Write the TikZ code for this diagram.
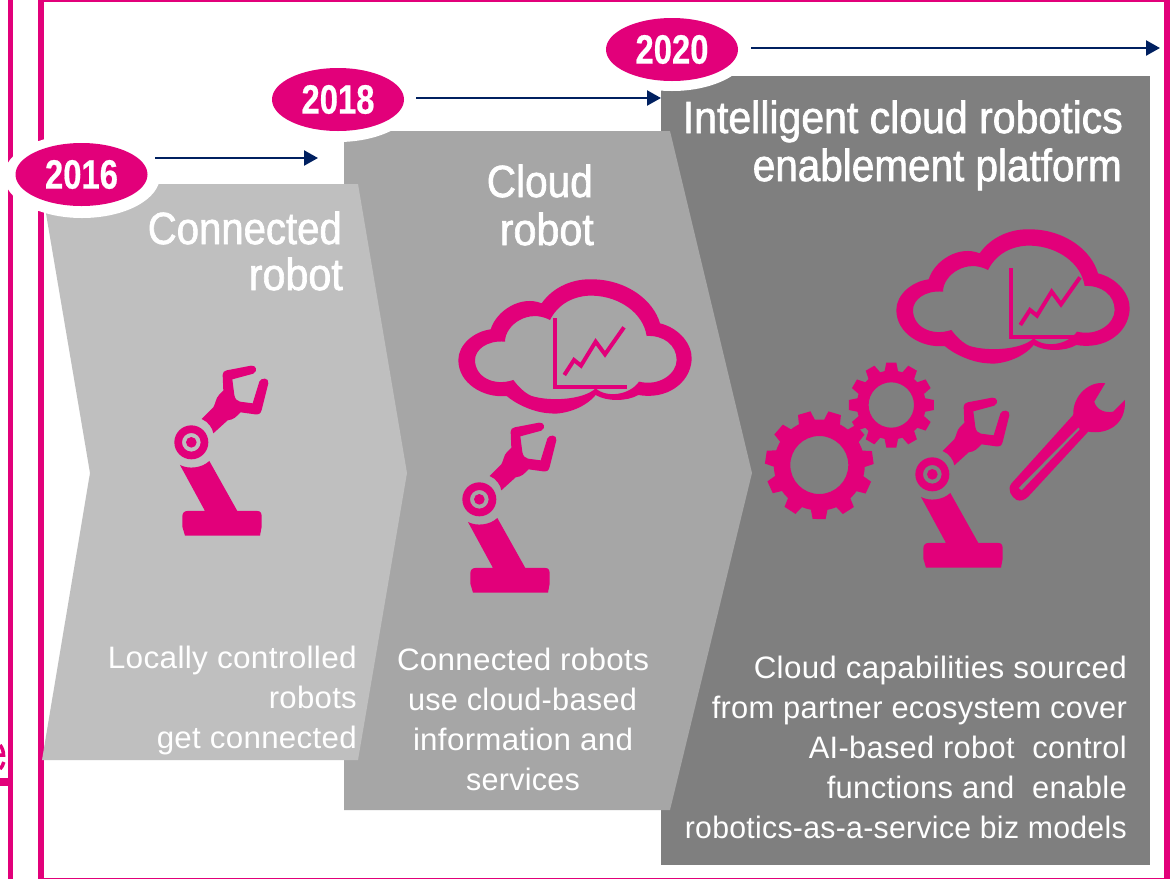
\documentclass[tikz,border=0pt]{standalone}
\usepackage{fontspec}
\usepackage{graphicx}
\usetikzlibrary{arrows.meta,shapes.geometric}
\setmainfont{Liberation Sans}
\newfontfamily\titlefont[FakeBold=1.6]{Liberation Sans}
\newfontfamily\bodyfont[LetterSpace=1]{Liberation Sans}
\newfontfamily\yearfont[FakeStretch=0.8,FakeBold=0.5]{Liberation Sans Bold}
\definecolor{tmag}{HTML}{E2007A}
\definecolor{lgrey}{HTML}{BFBFBF}
\definecolor{mgrey}{HTML}{A6A6A6}
\definecolor{dgrey}{HTML}{7F7F7F}
\definecolor{navy}{HTML}{002060}
\newcommand{\fitw}[2]{\resizebox{#1pt}{\height}{#2}}
\tikzset{
  year/.style={ellipse,fill=tmag,text=white,minimum width=132pt,minimum height=63pt,inner sep=0pt,font=\fontsize{41}{41}\yearfont},
  halo/.style={ellipse,fill=white,minimum width=156pt,minimum height=84pt,inner sep=0pt},
  timeline/.style={draw=navy,line width=2.4pt,-{Triangle[length=14pt,width=15pt]}},
  title/.style={text=white,font=\fontsize{45}{46}\titlefont,inner sep=0pt},
  bodytext/.style={text=white,font=\fontsize{31}{40}\bodyfont,inner sep=0pt},
  robot/.pic={
    \begin{scope}[x=0.3333pt,y=-0.3333pt]
      \fill[tmag] (90,345) .. controls (115,358) and (155,355) .. (178,333) -- (262,483) -- (322,483)
        .. controls (332,483) and (335,490) .. (335,500) -- (335,530) -- (330,557) -- (105,557) -- (97,530) -- (97,500)
        .. controls (97,490) and (102,483) .. (112,483) -- (165,483) -- cycle;
      \fill[tmag,even odd rule] (124,277) circle[radius=51] (124,277) circle[radius=28] (124,277) circle[radius=16];
      \fill[tmag,line join=round] (155,207) -- (190,172) .. controls (197,160) and (197,145) .. (207,135) -- (220,122) -- (218,75)
        .. controls (218,67) and (222,63) .. (230,61) -- (303,47) .. controls (318,45) and (325,62) .. (310,71) -- (247,88) -- (253,135)
        .. controls (255,148) and (262,153) .. (270,155) -- (308,160) -- (328,95) .. controls (333,82) and (358,82) .. (355,100) -- (335,180)
        .. controls (332,192) and (325,194) .. (315,193) -- (272,187) -- (255,203) .. controls (248,210) and (240,208) .. (233,211) -- (190,250)
        .. controls (188,235) and (175,215) .. (155,207) -- cycle;
    \end{scope}
  },
  cloud/.pic={
    \begin{scope}[x=0.3333pt,y=-0.3333pt]
      \fill[tmag,even odd rule]
        (122,178) .. controls (140,120) and (215,75) .. (275,100)
        .. controls (310,50) and (370,25) .. (430,28)
        .. controls (530,30) and (610,90) .. (630,160)
        .. controls (690,175) and (728,225) .. (725,270)
        .. controls (720,340) and (650,390) .. (565,375)
        .. controls (530,395) and (470,395) .. (437,375)
        .. controls (400,420) and (330,435) .. (300,430)
        .. controls (250,428) and (195,400) .. (170,378)
        .. controls (100,385) and (25,340) .. (25,270)
        .. controls (25,225) and (70,185) .. (122,178) -- cycle
        (165,215) .. controls (165,165) and (235,115) .. (300,150)
        .. controls (330,90) and (390,75) .. (430,77)
        .. controls (510,80) and (580,130) .. (590,198)
        .. controls (640,195) and (680,225) .. (680,270)
        .. controls (680,310) and (630,350) .. (567,335)
        .. controls (540,375) and (470,385) .. (437,355)
        .. controls (400,390) and (300,395) .. (245,378)
        .. controls (225,370) and (205,350) .. (190,330)
        .. controls (130,350) and (75,320) .. (75,270)
        .. controls (75,240) and (110,210) .. (165,215) -- cycle;
    \end{scope}
  },
  chart/.pic={
    \begin{scope}[x=0.3333pt,y=-0.3333pt]
      \draw[tmag,line width=4pt] (315,145) -- (315,350) -- (530,350);
      \draw[tmag,line width=4pt] (343,315) -- (372,270) -- (393,287) -- (437,215) -- (465,253) -- (522,172);
    \end{scope}
  }
}
\newcommand{\gearwheel}[8]{% cx cy hole root out teeth halfwidth offset
  \fill[tmag,even odd rule] (#1,#2) circle[radius=#4] (#1,#2) circle[radius=#3];
  \pgfmathsetmacro{\gstep}{360/#6}
  \foreach \k in {1,...,#6}{
    \pgfmathsetmacro{\gang}{#8+\k*\gstep}
    \fill[tmag,shift={(#1,#2)},rotate=\gang] (#4-2,-#7-1) -- (#5,-#7+1) -- (#5,#7-1) -- (#4-2,#7+1) -- cycle;
  }
}
\begin{document}
\begin{tikzpicture}[x=1pt,y=-1pt]
\useasboundingbox (0,0) rectangle (1175,879);
\fill[white] (0,0) rectangle (1175,879);
% frame
\fill[tmag] (7.5,0) rectangle (12.7,879);
\fill[tmag] (38,0) rectangle (44,879);
\fill[tmag] (38,0) rectangle (1170,2.3);
\fill[tmag] (1164,0) rectangle (1170,879);
\fill[tmag] (38,877.5) rectangle (1170,879);
\fill[tmag] (0,778) rectangle (7.5,786);
\draw[tmag,line width=3.5pt] (0,745) .. controls (2.5,748) and (3.5,752) .. (3.5,755) -- (0,755);
\draw[tmag,line width=3.5pt] (0,769) .. controls (2,767) and (3,765) .. (3.8,762);
% panels
\fill[dgrey] (661,76) rectangle (1150,865);
\fill[mgrey] (344,131) -- (670,131) -- (752,473) -- (670,810) -- (344,810) -- cycle;
\fill[lgrey] (41,184) -- (358,184) -- (407,473) -- (358,760) -- (42,760) -- (90,473) -- cycle;
% halos and years
\node[halo] (h2020) at (672,49) {};
\node[halo] (h2018) at (338,100) {};
\node[halo] (h2016) at (82,176) {};
\node[year] (y2016) at (81.5,174.5) {2016};
\node[year] (y2018) at (338,99.5) {2018};
\node[year] (y2020) at (672,49.5) {2020};
% timeline arrows
\coordinate (a1s) at (155,158); \coordinate (a1e) at (318,158);
\coordinate (a2s) at (416,98);  \coordinate (a2e) at (661,98);
\coordinate (a3s) at (751,48);  \coordinate (a3e) at (1160,48);
\draw[timeline] (a1s) -- (a1e);
\draw[timeline] (a2s) -- (a2e);
\draw[timeline] (a3s) -- (a3e);
% titles
\node[title,anchor=base east] (t1a) at (342,244) {\fitw{194}{Connected}};
\node[title,anchor=base east] (t1b) at (343,290) {\fitw{94}{robot}};
\node[title,anchor=base east] (t2a) at (593,197) {\fitw{106}{Cloud}};
\node[title,anchor=base east] (t2b) at (594,245) {\fitw{94}{robot}};
\node[title,anchor=base east] (t3a) at (1123,133) {\fitw{440}{Intelligent cloud robotics}};
\node[title,anchor=base east] (t3b) at (1122,181) {\fitw{369}{enablement platform}};
% icons
\pic at (150,350) {robot};
\pic at (438,407) {robot};
\pic at (891,382) {robot};
\pic at (450,270) {cloud};
\pic at (450,270) {chart};
\pic at (888,220) {cloud};
\pic at (906,220) {chart};
\gearwheel{819.3}{465}{29}{45.5}{54}{11}{7.5}{8}
\gearwheel{891.3}{405}{22.7}{34.5}{42.5}{12}{6}{0}
% wrench
\begin{scope}[x=0.3333pt,y=-0.3333pt,shift={(2250,1050)}]
  \fill[tmag,even odd rule] (1066,100) .. controls (1020,92) and (968,135) .. (970,195) -- (785,400)
    .. controls (770,420) and (785,440) .. (800,450) .. controls (812,455) and (825,450) .. (835,440) -- (1015,245)
    .. controls (1070,255) and (1130,225) .. (1125,150) -- (1090,185)
    .. controls (1065,190) and (1040,180) .. (1033,155) -- cycle
    (986,232) -- (990,238) -- (815,422) -- (806,414) -- cycle;
\end{scope}
% body text
\node[bodytext,anchor=base east] (b1a) at (357,668) {\fitw{249}{Locally controlled}};
\node[bodytext,anchor=base east] (b1b) at (357,708) {\fitw{88}{robots}};
\node[bodytext,anchor=base east] (b1c) at (357,748) {\fitw{200}{get connected}};
\node[bodytext,anchor=base] (b2a) at (523,670) {\fitw{252}{Connected robots}};
\node[bodytext,anchor=base] (b2b) at (522.5,710) {\fitw{229}{use cloud-based}};
\node[bodytext,anchor=base] (b2c) at (523,750) {\fitw{220}{information and}};
\node[bodytext,anchor=base] (b2d) at (523,790) {\fitw{114}{services}};
\node[bodytext,anchor=base east] (b3a) at (1127,678) {\fitw{373}{Cloud capabilities sourced}};
\node[bodytext,anchor=base east] (b3b) at (1127,718) {\fitw{415}{from partner ecosystem cover}};
\node[bodytext,anchor=base east] (b3c) at (1127,758) {\fitw{318}{AI-based robot\ \ control}};
\node[bodytext,anchor=base east] (b3d) at (1127,798) {\fitw{300}{functions and\ \ enable}};
\node[bodytext,anchor=base east] (b3e) at (1127,838) {\fitw{442}{robotics-as-a-service biz models}};
\end{tikzpicture}
\end{document}
